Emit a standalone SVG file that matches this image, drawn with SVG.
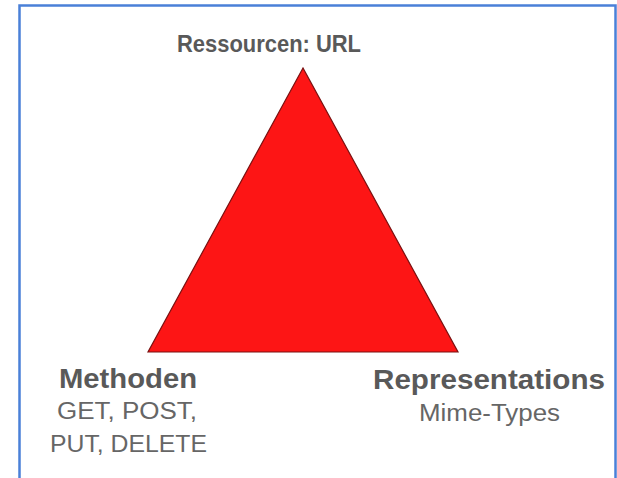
<svg xmlns="http://www.w3.org/2000/svg" width="617" height="478" viewBox="0 0 617 478">
  <style>
    .title { font-family: "Liberation Sans", Arial, sans-serif; font-weight: bold; fill: #595959; text-anchor: middle; }
    .sub { font-family: "Liberation Sans", Arial, sans-serif; fill: #666666; text-anchor: middle; }
  </style>
  <rect x="0" y="0" width="617" height="478" fill="#ffffff"/>
  <rect id="frame" x="19.5" y="5.5" width="596" height="520" fill="#ffffff" stroke="#4a80d8" stroke-width="2.5"/>
  <g id="triangle">
    <polygon points="303,68 148,352 458,352" fill="#fd1515" stroke="#7a1010" stroke-width="1.2" stroke-linejoin="miter"/>
  </g>
  <g id="ressourcen">
    <text class="title" x="269" y="52" font-size="24" textLength="184" lengthAdjust="spacingAndGlyphs">Ressourcen: URL</text>
  </g>
  <g id="methoden">
    <text class="title" x="128" y="388" font-size="28" textLength="138" lengthAdjust="spacingAndGlyphs">Methoden</text>
    <text class="sub" x="127" y="419" font-size="23" textLength="140" lengthAdjust="spacingAndGlyphs">GET, POST,</text>
    <text class="sub" x="128.5" y="452" font-size="23" textLength="157" lengthAdjust="spacingAndGlyphs">PUT, DELETE</text>
  </g>
  <g id="representations">
    <text class="title" x="489" y="389" font-size="28" textLength="232" lengthAdjust="spacingAndGlyphs">Representations</text>
    <text class="sub" x="489.5" y="421" font-size="23" textLength="141" lengthAdjust="spacingAndGlyphs">Mime-Types</text>
  </g>
  <g id="connectors"></g>
</svg>
